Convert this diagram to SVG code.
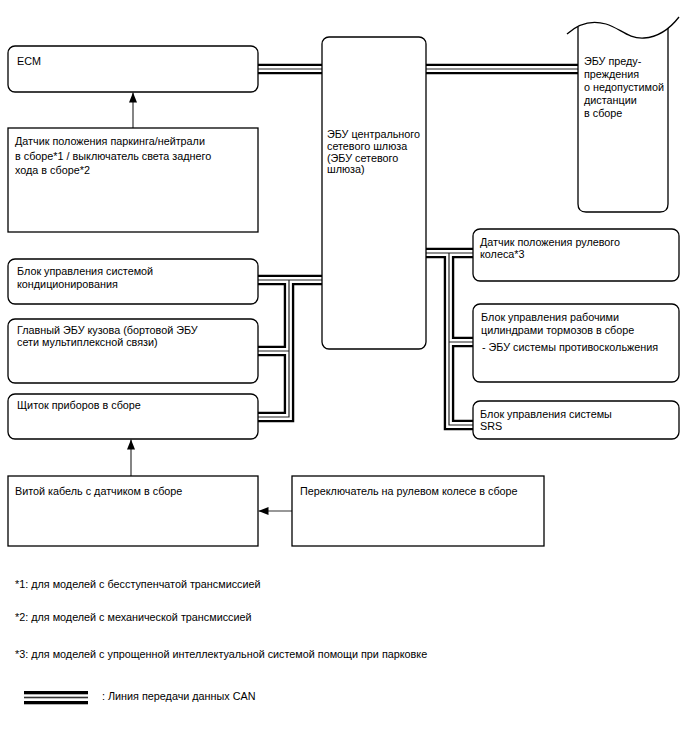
<svg xmlns="http://www.w3.org/2000/svg" width="688" height="755" viewBox="0 0 688 755">
<style>
  text { font-family: "Liberation Sans", Arial, sans-serif; font-size: 10.8px; fill: #000; }
  .box { fill: #fff; stroke: #000; stroke-width: 1.3; }
  .busO { fill: none; stroke: #000; stroke-width: 10.5; stroke-linejoin: miter; }
  .busW { fill: none; stroke: #fff; stroke-width: 5.8; stroke-linejoin: miter; }
  .busC { fill: none; stroke: #222; stroke-width: 1.2; stroke-linejoin: miter; }
  .arr { fill: none; stroke: #333; stroke-width: 1.2; marker-end: url(#ah); }
</style>
<defs>
  <marker id="ah" markerUnits="userSpaceOnUse" markerWidth="10" markerHeight="8" refX="10" refY="4" orient="auto">
    <path d="M0,0 L10,4 L0,8 Z" fill="#000"/>
  </marker>
  <path id="b1" d="M258 69 H322"/>
  <path id="b2" d="M426 69 H578"/>
  <path id="b3" d="M322 280 H258 M289 280 V417 H258 M289 351 H258"/>
  <path id="b4" d="M426 253 H473 M449 253 V425 H473 M449 342 H473"/>
</defs>
<rect width="688" height="755" fill="#fff"/>

<g id="connectors">
  <g class="busO"><use href="#b1"/><use href="#b2"/><use href="#b3"/><use href="#b4"/></g>
  <g class="busW"><use href="#b1"/><use href="#b2"/><use href="#b3"/><use href="#b4"/></g>
  <g class="busC"><use href="#b1"/><use href="#b2"/><use href="#b3"/><use href="#b4"/></g>
  <line class="arr" x1="133" y1="128" x2="133" y2="92.5"/>
  <line class="arr" x1="131" y1="476" x2="131" y2="439.5"/>
  <line class="arr" x1="292" y1="511" x2="258.5" y2="511"/>
</g>

<g id="ecm">
  <rect class="box" x="8" y="46" width="250" height="46" rx="7"/>
  <text x="17" y="65">ECM</text>
</g>

<g id="parking-sensor">
  <rect class="box" x="8" y="128" width="250" height="104"/>
  <text x="15" y="144.5">Датчик положения паркинга/нейтрали</text>
  <text x="15" y="159.5">в сборе*1 / выключатель света заднего</text>
  <text x="15" y="173.5">хода в сборе*2</text>
</g>

<g id="gateway">
  <rect class="box" x="322" y="37" width="104" height="312" rx="7"/>
  <text x="327" y="138">ЭБУ центрального</text>
  <text x="327" y="149.5">сетевого шлюза</text>
  <text x="327" y="161.5">(ЭБУ сетевого</text>
  <text x="327" y="173">шлюза)</text>
</g>

<g id="distance-warning">
  <path class="box" d="M578 27 V204 Q578 212 586 212 H660 Q668 212 668 204 V28"/>
  <path fill="none" stroke="#000" stroke-width="1.3" d="M567 34 C578 24 592 20 606 24 C620 28 628 39 644 38 C660 37 672 26 679 17"/>
  <text x="584" y="64.5">ЭБУ преду-</text>
  <text x="584" y="77.5">преждения</text>
  <text x="584" y="90.5">о недопустимой</text>
  <text x="584" y="104">дистанции</text>
  <text x="584" y="117">в сборе</text>
</g>

<g id="ac">
  <rect class="box" x="8" y="259" width="250" height="45" rx="7"/>
  <text x="17" y="275">Блок управления системой</text>
  <text x="17" y="288">кондиционирования</text>
</g>

<g id="body-ecu">
  <rect class="box" x="8" y="319" width="250" height="64" rx="7"/>
  <text x="17" y="334">Главный ЭБУ кузова (бортовой ЭБУ</text>
  <text x="17" y="345.5">сети мультиплексной связи)</text>
</g>

<g id="cluster">
  <rect class="box" x="8" y="394" width="250" height="45" rx="7"/>
  <text x="17" y="409">Щиток приборов в сборе</text>
</g>

<g id="steering-sensor">
  <rect class="box" x="473" y="229" width="206" height="52" rx="7"/>
  <text x="480" y="246">Датчик положения рулевого</text>
  <text x="480" y="258">колеса*3</text>
</g>

<g id="brake">
  <rect class="box" x="473" y="304" width="206" height="78" rx="7"/>
  <text x="481" y="321">Блок управления рабочими</text>
  <text x="481" y="334">цилиндрами тормозов в сборе</text>
  <text x="482" y="351">- ЭБУ системы противоскольжения</text>
</g>

<g id="srs">
  <rect class="box" x="473" y="401" width="206" height="38" rx="7"/>
  <text x="480" y="417.5">Блок управления системы</text>
  <text x="480" y="429.5">SRS</text>
</g>

<g id="spiral-cable">
  <rect class="box" x="8" y="476" width="250" height="70"/>
  <text x="15" y="494.5">Витой кабель с датчиком в сборе</text>
</g>

<g id="steering-switch">
  <rect class="box" x="292" y="476" width="252" height="70"/>
  <text x="300" y="494.5">Переключатель на рулевом колесе в сборе</text>
</g>

<g id="notes">
  <text x="15" y="588">*1: для моделей с бесступенчатой трансмиссией</text>
  <text x="15" y="621">*2: для моделей с механической трансмиссией</text>
  <text x="15" y="658">*3: для моделей с упрощенной интеллектуальной системой помощи при парковке</text>
</g>

<g id="legend">
  <rect x="24" y="691" width="64" height="3.3" fill="#000"/>
  <rect x="24" y="696.7" width="64" height="1.6" fill="#333"/>
  <rect x="24" y="701" width="64" height="3.3" fill="#000"/>
  <text x="102" y="700">: Линия передачи данных CAN</text>
</g>
</svg>
